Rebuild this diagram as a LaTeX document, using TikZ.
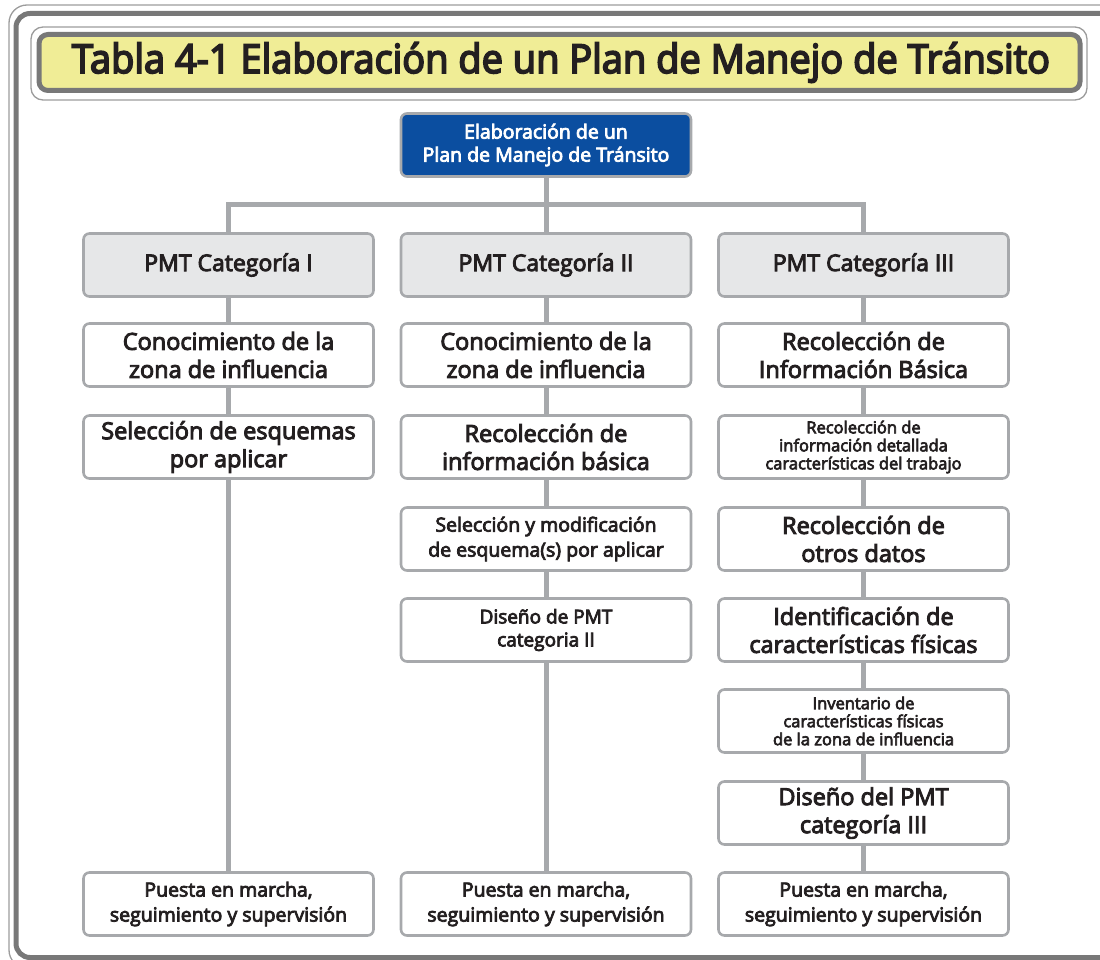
\documentclass[tikz,border=0pt]{standalone}
\usepackage{fontspec}
\setmainfont{Open Sans}
\newfontfamily\semib{Open Sans}[FakeBold=4]
\newfontfamily\titlef{Open Sans}[FakeBold=4.5]
\usetikzlibrary{backgrounds}
\definecolor{frameg}{HTML}{787878}
\definecolor{thing}{HTML}{9C9C9C}
\definecolor{ttlyel}{HTML}{F0ED96}
\definecolor{boxg}{HTML}{A7A9AC}
\definecolor{boxfill}{HTML}{E6E7E8}
\definecolor{blueb}{HTML}{0B4EA0}
\definecolor{txt}{HTML}{231F20}
\tikzset{
  bx/.style={draw=boxg, line width=2.6pt, rounded corners=6pt, fill=white,
    minimum width=290pt, minimum height=63pt, inner sep=0pt, align=center,
    text=txt, font=\semib},
  catbox/.style={bx, fill=boxfill},
  topbox/.style={bx, fill=blueb, text=white},
  big/.style={font=\semib\fontsize{23.5}{28}\selectfont},
  mid/.style={font=\semib\fontsize{19.5}{25}\selectfont},
  sml/.style={font=\semib\fontsize{16.5}{18}\selectfont},
  cat/.style={font=\semib\fontsize{23}{26}\selectfont},
  conn/.style={draw=boxg, line width=5pt},
}
\begin{document}
\begin{tikzpicture}[x=1pt,y=-1pt]
\useasboundingbox (0,0) rectangle (1100,960);
% outer frame
\draw[thing, line width=1.3pt, rounded corners=18pt] (9,5) rectangle (1130,968);
\draw[frameg, line width=5pt, rounded corners=14pt] (16,13.5) rectangle (1125,957.5);
% title
\draw[thing, line width=1.3pt, rounded corners=12pt] (31,27) rectangle (1087,100);
\draw[frameg, fill=ttlyel, line width=5pt, rounded corners=9pt] (39,34.5) rectangle (1080,90.5);
\node[text=txt, inner sep=0pt] (title) at (561,62.5)
  {\resizebox{978pt}{\height}{\titlef\fontsize{40}{40}\selectfont Tabla 4-1 Elaboración de un Plan de Manejo de Tránsito}};
% top
\node[topbox, font=\semib\fontsize{19.5}{23}\selectfont] (top) at (546,145) {Elaboración de un\\Plan de Manejo de Tránsito};
\coordinate (hb) at (546,205);
% categories
\node[catbox, cat] (p1) at (228.5,265) {PMT Categoría I};
\node[catbox, cat] (p2) at (546,265) {PMT Categoría II};
\node[catbox, cat] (p3) at (863.5,265) {PMT Categoría III};
% column 1
\node[bx, big] (a1) at (228.5,355) {Conocimiento de la\\zona de influencia};
\node[bx, big] (a2) at (228.5,447) {Selección de esquemas\\por aplicar};
\node[bx, mid] (a7) at (228.5,904) {Puesta en marcha,\\seguimiento y supervisión};
% column 2
\node[bx, big] (b1) at (546,355) {Conocimiento de la\\zona de influencia};
\node[bx, big] (b2) at (546,447) {Recolección de\\información básica};
\node[bx, mid] (b3) at (546,539) {Selección y modificación\\de esquema(s) por aplicar};
\node[bx, font=\semib\fontsize{19}{23}\selectfont] (b4) at (546,630) {Diseño de PMT\\categoria II};
\node[bx, mid] (b7) at (546,904) {Puesta en marcha,\\seguimiento y supervisión};
% column 3
\node[bx, big] (c1) at (863.5,355) {Recolección de\\Información Básica};
\node[bx, sml] (c2) at (863.5,447) {Recolección de\\información detallada\\características del trabajo};
\node[bx, big] (c3) at (863.5,539) {Recolección de\\otros datos};
\node[bx, big] (c4) at (863.5,630) {Identificación de\\características físicas};
\node[bx, sml] (c5) at (863.5,721) {Inventario de\\características físicas\\de la zona de influencia};
\node[bx, big] (c6) at (863.5,813) {Diseño del PMT\\categoría III};
\node[bx, mid] (c7) at (863.5,904) {Puesta en marcha,\\seguimiento y supervisión};
% connectors
\begin{scope}[on background layer]
\draw[conn] (top.south) -- (p2.north);
\draw[conn] (p1.north) |- (hb) -| (p3.north);
\draw[conn] (p1.south) -- (a1.north);
\draw[conn] (a1.south) -- (a2.north);
\draw[conn] (a2.south) -- (a7.north);
\draw[conn] (p2.south) -- (b1.north);
\draw[conn] (b1.south) -- (b2.north);
\draw[conn] (b2.south) -- (b3.north);
\draw[conn] (b3.south) -- (b4.north);
\draw[conn] (b4.south) -- (b7.north);
\draw[conn] (p3.south) -- (c1.north);
\draw[conn] (c1.south) -- (c2.north);
\draw[conn] (c2.south) -- (c3.north);
\draw[conn] (c3.south) -- (c4.north);
\draw[conn] (c4.south) -- (c5.north);
\draw[conn] (c5.south) -- (c6.north);
\draw[conn] (c6.south) -- (c7.north);
\end{scope}
\end{tikzpicture}
\end{document}
